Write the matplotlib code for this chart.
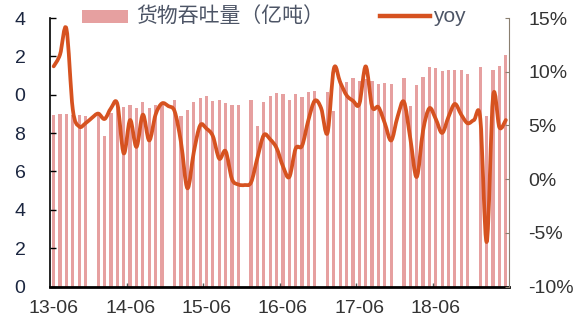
import numpy as np
import pandas as pd
import matplotlib
matplotlib.use("Agg")
import matplotlib.pyplot as plt
from matplotlib.path import Path
from matplotlib.patches import PathPatch, Rectangle
from matplotlib.lines import Line2D

plt.rcParams['font.family'] = ['Liberation Sans', 'Noto Sans CJK SC', 'DejaVu Sans']

# Monthly categories, 2013-06 .. 2019-05
months = pd.period_range('2013-06', '2019-05', freq='M').strftime('%y-%m').tolist()

# Port cargo throughput (100 million tonnes); December figures are not published
throughput = [
    8.96, 9.00, 9.00, 8.95, 8.92, 8.87, np.nan, 8.95, 7.83, 9.05,
    9.48, 9.34, 9.48, 9.30, 9.60, 9.30, 9.48, 9.57, np.nan, 9.74,
    8.90, 9.22, 9.60, 9.83, 9.91, 9.69, 9.74, 9.57, 9.48, 9.48,
    np.nan, 9.70, 8.39, 9.62, 9.91, 10.08, 10.03, 9.70, 10.03, 9.88,
    10.14, 10.20, np.nan, 10.14, 9.13, 10.70, 10.66, 10.85, 10.70, 10.80,
    10.70, 10.55, 10.60, 10.55, np.nan, 10.87, 9.39, 10.49, 10.95, 11.47,
    11.39, 11.25, 11.30, 11.30, 11.30, 11.08, np.nan, 11.47, 8.87, 11.30,
    11.51, 12.08,
]

# Year-on-year growth (%)
yoy = [
    10.5, 11.6, 14.0, 6.5, 4.9, 5.2, 5.7, 6.1, 5.6, 6.6,
    7.0, 2.4, 5.5, 3.0, 6.0, 3.6, 6.0, 7.05, 6.8, 6.3,
    3.4, -0.85, 2.5, 5.0, 4.7, 4.0, 1.9, 2.6, 0.0, -0.5,
    -0.55, -0.3, 2.0, 4.1, 3.7, 2.9, 1.2, 0.2, 2.85, 3.1,
    5.5, 7.3, 6.6, 4.3, 10.3, 9.0, 7.8, 7.3, 7.0, 10.5,
    6.75, 6.7, 5.2, 3.6, 5.8, 7.2, 3.8, 0.2, 4.5, 6.6,
    5.6, 4.3, 5.8, 7.0, 6.0, 5.2, 5.5, 5.6, -5.85, 7.7,
    4.8, 5.5,
]

x_tick_labels = ['13-06', '14-06', '15-06', '16-06', '17-06', '18-06']
left_ticks = [0, 2, 4, 6, 8, 10, 12, 14]
left_tick_labels = ['0', '2', '4', '6', '8', '0', '2', '4']
right_ticks = [-10, -5, 0, 5, 10, 15]
right_tick_labels = ['-10%', '-5%', '0%', '5%', '10%', '15%']

BAR = '#E6A0A0'
LINE = '#D65220'
TEXT = '#333333'

fig = plt.figure(figsize=(5.79, 3.24), dpi=100)
ax = fig.add_axes([0.0872, 0.1157, 0.7919, 0.8287])

x = np.arange(len(months))
ax.bar(x, throughput, width=0.5, color=BAR, zorder=1)
ax.set_xlim(-0.5, len(months) - 0.5)
ax.set_ylim(0, 14)

# Category labels centred on the June bars, tick marks on the category boundaries
label_pos = [months.index(lbl) for lbl in x_tick_labels]
ax.set_xticks(label_pos)
ax.set_xticklabels(x_tick_labels)
ax.set_xticks([p - 0.5 for p in label_pos[1:]], minor=True)
ax.tick_params(axis='x', which='major', length=0, pad=9.5, labelsize=14, labelcolor=TEXT)
ax.tick_params(axis='x', which='minor', direction='in', length=3, width=1, color='#555555')

ax.set_yticks(left_ticks)
ax.set_yticklabels(left_tick_labels)
ax.tick_params(axis='y', direction='in', length=4.5, width=1, color='black',
               pad=18, labelsize=14, labelcolor='#1b2640')

for side in ('top', 'right'):
    ax.spines[side].set_visible(False)
ax.spines['left'].set_color('black')
ax.spines['left'].set_linewidth(1.2)
ax.spines['bottom'].set_color('black')
ax.spines['bottom'].set_linewidth(2)

ax2 = ax.twinx()
ax2.set_ylim(-10, 15)
ax2.set_yticks(right_ticks)
ax2.set_yticklabels(right_tick_labels)
ax2.tick_params(axis='y', direction='in', length=3, width=0.8, color='#8a7f70',
                pad=14, labelsize=14, labelcolor=TEXT)
for side in ('top', 'left', 'bottom'):
    ax2.spines[side].set_visible(False)
ax2.spines['right'].set_color('#8a7f70')
ax2.spines['right'].set_linewidth(0.8)


def smooth_path(xs, ys):
    """Catmull-Rom curve through the points, expressed as cubic Bezier segments."""
    pts = np.column_stack([xs, ys]).astype(float)
    n = len(pts)
    verts = [pts[0]]
    codes = [Path.MOVETO]
    for k in range(n - 1):
        p0 = pts[k - 1] if k > 0 else pts[k]
        p1 = pts[k]
        p2 = pts[k + 1]
        p3 = pts[k + 2] if k + 2 < n else pts[k + 1]
        verts += [p1 + (p2 - p0) / 6.0, p2 - (p3 - p1) / 6.0, p2]
        codes += [Path.CURVE4] * 3
    return Path(verts, codes)


ax2.add_patch(PathPatch(smooth_path(x, yoy), facecolor='none', edgecolor=LINE,
                        lw=2.7, capstyle='round', joinstyle='round', zorder=3))

# Legend drawn across the top of the figure
W, H = 579.0, 324.0
fig.add_artist(Rectangle((82 / W, 1 - 23 / H), 46 / W, 13 / H,
                         transform=fig.transFigure, facecolor=BAR, edgecolor='none'))
fig.text(136 / W, 1 - 16 / H, '货物吞吐量（亿吨）', fontsize=15, color='#4d5566',
         va='center', ha='left', family=['Noto Sans CJK SC', 'DejaVu Sans'])
fig.add_artist(Line2D([380 / W, 430 / W], [1 - 16 / H, 1 - 16 / H],
                      transform=fig.transFigure, color=LINE, lw=3.2))
fig.text(433 / W, 1 - 22 / H, 'yoy', fontsize=15, color='#4d5566',
         va='baseline', ha='left')

fig.savefig('out.png', dpi=100)
